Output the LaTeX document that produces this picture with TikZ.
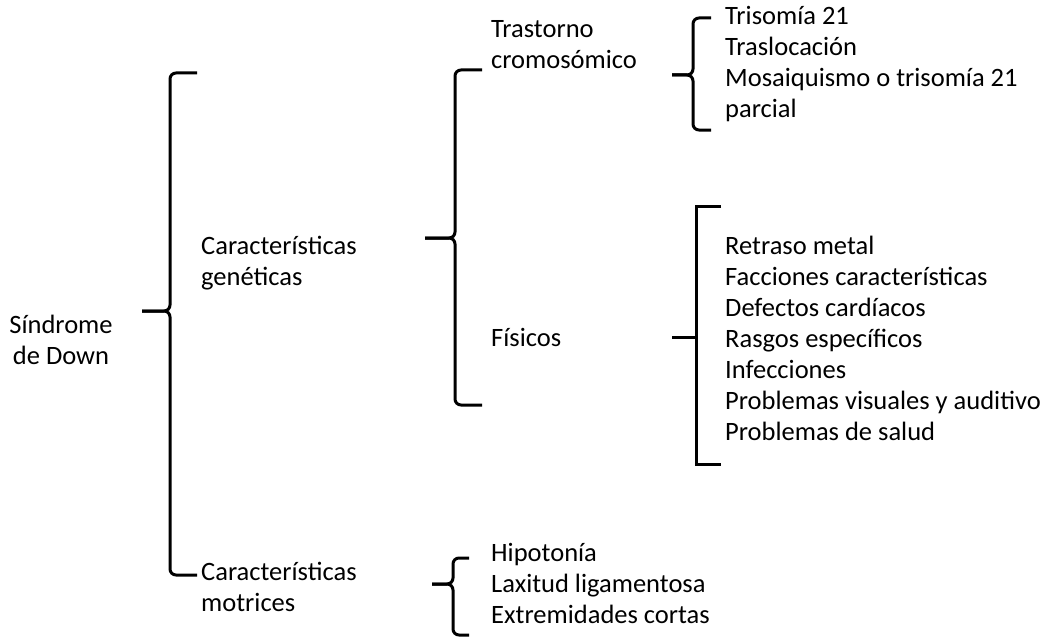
\documentclass[tikz,border=0pt]{standalone}
\usepackage{fontspec}
\setmainfont{Carlito}
\newcommand\brc[6]{% spine x, top, mid, bottom, hook end x, stub start x
  \draw[brace] (#5,#2) -- (#1,#2) -- (#1,#3) -- (#6,#3);
  \draw[brace] (#6,#3) -- (#1,#3) -- (#1,#4) -- (#5,#4);}
\newcommand\sqb[6]{%
  \draw[sqbrace] (#5,#2) -- (#1,#2) -- (#1,#4) -- (#5,#4);
  \draw[sqbrace] (#6,#3) -- (#1,#3);}
\begin{document}
\begin{tikzpicture}[x=1pt,y=-1pt,
  brace/.style={line width=3pt,rounded corners=6pt},
  sqbrace/.style={line width=3pt},
  lbl/.style={font=\fontsize{26.5}{31}\selectfont,inner sep=0pt,anchor=west,align=left},
  clbl/.style={font=\fontsize{26.5}{31}\selectfont,inner sep=0pt,align=center}]
\useasboundingbox (0,0) rectangle (1047,642);
\brc{170}{73}{311}{575}{197}{142}
\brc{455}{70}{238}{405}{482}{425}
\brc{693}{18}{75}{130}{711}{672}
\sqb{696}{206}{337}{464}{721}{672}
\brc{453}{558}{584}{635}{469}{432}
\node[clbl] (sd) at (61,340) {Síndrome\\de Down};
\node[lbl] (cg) at (201,263) {Características\\genéticas};
\node[lbl] (tc) at (491,45) {Trastorno\\cromosómico};
\node[lbl] (tr) at (725,64) {Trisomía 21\\Traslocación\\Mosaiquismo o trisomía 21\\parcial};
\node[lbl] (fi) at (491,337) {Físicos};
\node[lbl] (fl) at (725,338) {Retraso metal\\Facciones características\\Defectos cardíacos\\Rasgos específicos\\Infecciones\\Problemas visuales y auditivo\\Problemas de salud};
\node[lbl] (cm) at (201,587) {Características\\motrices};
\node[lbl] (ml) at (491,583) {Hipotonía\\Laxitud ligamentosa\\Extremidades cortas};
\end{tikzpicture}
\end{document}
